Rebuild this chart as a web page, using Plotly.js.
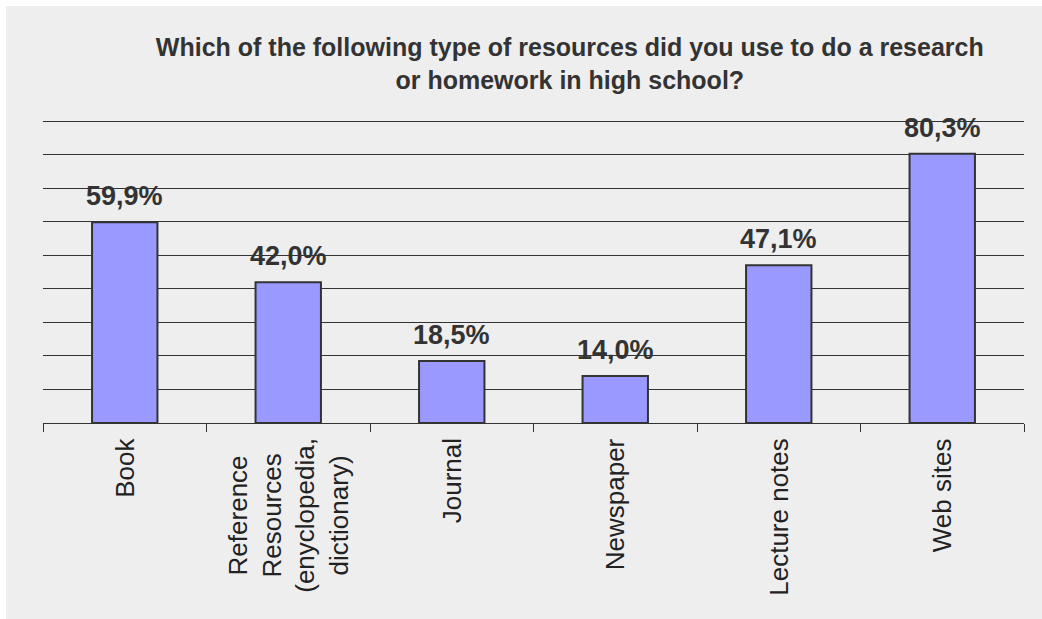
<!DOCTYPE html>
<html>
<head>
<meta charset="utf-8">
<script src="https://cdn.plot.ly/plotly-3.0.1.min.js"></script>
<style>
  html, body { margin: 0; padding: 0; background: #ffffff; }
  #chart { position: absolute; left: 6px; top: 6px; width: 1036px; height: 613px; }
</style>
</head>
<body>
<div id="chart"></div>
<script>
const categories = ["Book", "Reference Resources (enyclopedia, dictionary)", "Journal", "Newspaper", "Lecture notes", "Web sites"];
const tickLabels = ["Book", "Reference<br>Resources<br>(enyclopedia,<br>dictionary)", "Journal", "Newspaper", "Lecture notes", "Web sites"];
const values = [59.9, 42.0, 18.5, 14.0, 47.1, 80.3];
const titleText = "Which of the following type of resources did you use to do a research<br>or homework in high school?";

const fontFamily = "'Liberation Sans', Arial, sans-serif";
const dark = "#333333";

const trace = {
  type: "bar",
  x: categories,
  y: values,
  width: 0.4,
  marker: { color: "#9999ff", line: { color: dark, width: 2 } },
  hoverinfo: "skip"
};

const annotations = [];
categories.forEach((c, i) => {
  annotations.push({
    x: c, y: values[i], xref: "x", yref: "y",
    text: values[i].toFixed(1).replace(".", ",") + "%",
    showarrow: false, xanchor: "center", yanchor: "bottom", yshift: 9,
    font: { family: fontFamily, size: 27, color: dark, weight: "bold" }
  });
  annotations.push({
    x: c, y: 0, xref: "x", yref: "y",
    text: tickLabels[i],
    textangle: -90, align: "center",
    showarrow: false, xanchor: "center", yanchor: "top", yshift: -13,
    font: { family: fontFamily, size: 26, color: "#222222" }
  });
});

const layout = {
  width: 1036, height: 613,
  paper_bgcolor: "#eeeeee", plot_bgcolor: "#eeeeee",
  margin: { l: 37, r: 18, t: 112, b: 196 },
  showlegend: false,
  title: {
    text: titleText,
    x: 0.537, xanchor: "center", xref: "paper",
    y: 0.918, yanchor: "top", yref: "container",
    font: { family: fontFamily, size: 25, color: dark, weight: "bold" }
  },
  xaxis: {
    type: "category",
    showline: true, linecolor: dark, linewidth: 1,
    ticks: "outside", tickson: "boundaries", ticklen: 8, tickcolor: dark, tickwidth: 1,
    showticklabels: false, showgrid: false, zeroline: false
  },
  yaxis: {
    range: [0, 91], dtick: 10, tick0: 0,
    showgrid: true, gridcolor: dark, gridwidth: 1,
    showticklabels: false, ticks: "", zeroline: false, showline: false
  },
  annotations: annotations
};

Plotly.newPlot("chart", [trace], layout, { displayModeBar: false, staticPlot: true });
</script>
</body>
</html>
